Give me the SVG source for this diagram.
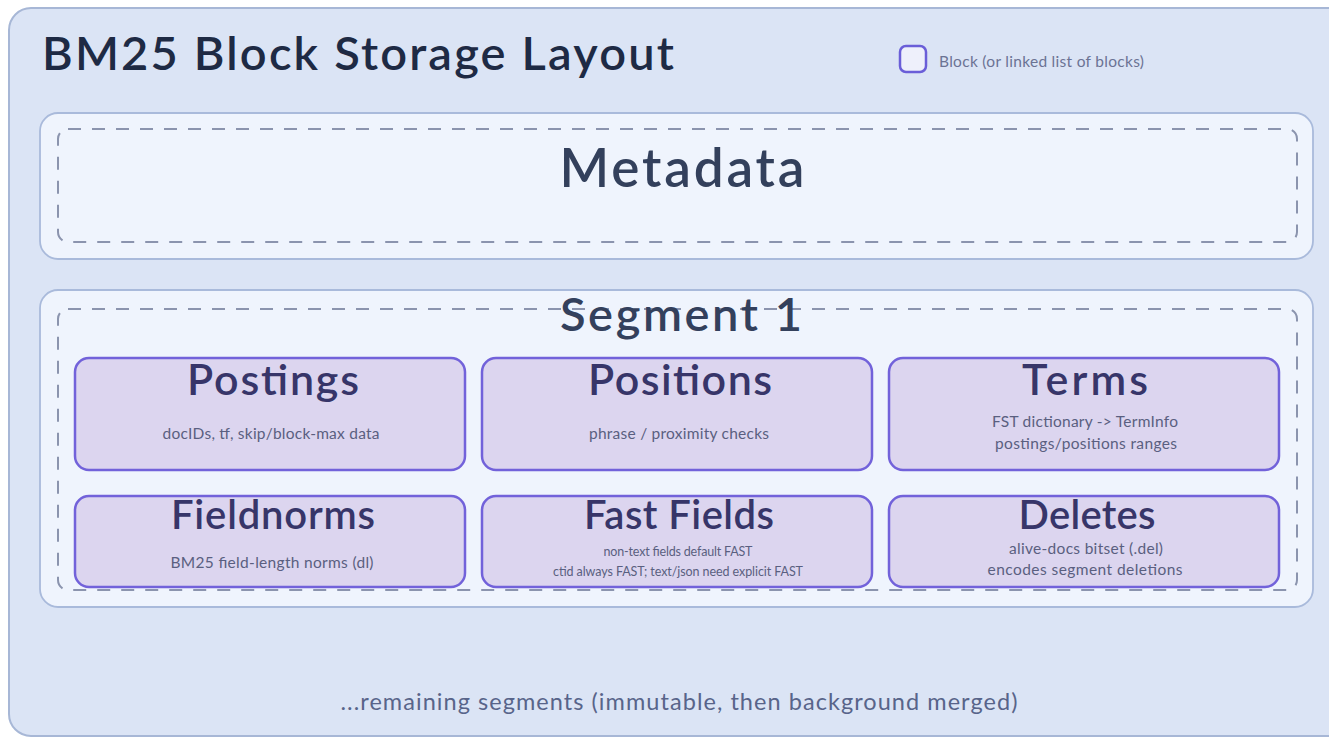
<svg xmlns="http://www.w3.org/2000/svg" width="1329" height="739" viewBox="0 0 1329 739">
  <style>
    text { font-family: Lato, "Noto Sans", "Liberation Sans", sans-serif; }
    .frame { fill: #dbe4f5; stroke: #a7b7d6; stroke-width: 2; }
    .section { fill: #eff4fd; stroke: #a9badb; stroke-width: 1.8; }
    .dash { fill: none; stroke: #8b94ae; stroke-width: 2; stroke-dasharray: 13 11; }
    .card { fill: #dcd5ef; stroke: #7262da; stroke-width: 2.5; }
    .heading { fill: #33405c; text-anchor: middle; font-weight: 600; }
    .ctitle { fill: #373569; text-anchor: middle; font-size: 43px; font-weight: 600; }
    .ctitle2 { fill: #373569; text-anchor: middle; font-size: 40px; font-weight: 600; }
    .csub { fill: #5a5f80; text-anchor: middle; font-size: 15.5px; }
    .csmall { fill: #5a5f80; text-anchor: middle; font-size: 12.5px; }
  </style>

  <!-- outer canvas -->
  <rect class="frame" x="9" y="8" width="1345" height="728" rx="22"/>
  <text x="42" y="70" font-size="47" fill="#1e2a44" font-weight="600" textLength="632" lengthAdjust="spacing">BM25 Block Storage Layout</text>

  <!-- legend -->
  <g id="legend">
    <rect x="900" y="46" width="26" height="26" rx="6" fill="#eef0fb" stroke="#6a5ed8" stroke-width="2.5"/>
    <text x="939" y="67" font-size="15.5" fill="#6b7394" textLength="205" lengthAdjust="spacing">Block (or linked list of blocks)</text>
  </g>

  <!-- metadata section -->
  <g id="metadata">
    <rect class="section" x="40" y="113" width="1273" height="146" rx="18"/>
    <rect class="dash" x="58" y="129" width="1239" height="113" rx="10"/>
    <text class="heading" x="682" y="187" font-size="53" textLength="245" lengthAdjust="spacing">Metadata</text>
  </g>

  <!-- segment 1 section -->
  <g id="segment1">
    <rect class="section" x="40" y="290" width="1273" height="317" rx="18"/>
    <rect class="dash" x="58" y="309" width="1239" height="281" rx="10"/>
    <text class="heading" x="681" y="331" font-size="47" textLength="242" lengthAdjust="spacing">Segment 1</text>
  </g>

  <g id="postings">
    <rect class="card" x="75" y="358" width="390" height="112" rx="14"/>
    <text class="ctitle" x="273" y="395" textLength="172" lengthAdjust="spacing">Postings</text>
    <text class="csub" x="271" y="439" textLength="217" lengthAdjust="spacing">docIDs, tf, skip/block-max data</text>
  </g>

  <g id="positions">
    <rect class="card" x="482" y="358" width="390" height="112" rx="14"/>
    <text class="ctitle" x="680" y="395" textLength="184" lengthAdjust="spacing">Positions</text>
    <text class="csub" x="679" y="439" textLength="180" lengthAdjust="spacing">phrase / proximity checks</text>
  </g>

  <g id="terms">
    <rect class="card" x="889" y="358" width="390" height="112" rx="14"/>
    <text class="ctitle" x="1085" y="395" textLength="126" lengthAdjust="spacing">Terms</text>
    <text class="csub" x="1085" y="427" textLength="186" lengthAdjust="spacing">FST dictionary -&gt; TermInfo</text>
    <text class="csub" x="1086" y="449" textLength="182" lengthAdjust="spacing">postings/positions ranges</text>
  </g>

  <g id="fieldnorms">
    <rect class="card" x="75" y="496" width="390" height="91" rx="14"/>
    <text class="ctitle2" x="273" y="529" textLength="204" lengthAdjust="spacing">Fieldnorms</text>
    <text class="csub" x="272" y="568" textLength="203" lengthAdjust="spacing">BM25 field-length norms (dl)</text>
  </g>

  <g id="fastfields">
    <rect class="card" x="482" y="496" width="390" height="91" rx="14"/>
    <text class="ctitle2" x="679" y="529" textLength="190" lengthAdjust="spacing">Fast Fields</text>
    <text class="csmall" x="678" y="556" textLength="149" lengthAdjust="spacing">non-text fields default FAST</text>
    <text class="csmall" x="678" y="576" textLength="250" lengthAdjust="spacing">ctid always FAST; text/json need explicit FAST</text>
  </g>

  <g id="deletes">
    <rect class="card" x="889" y="496" width="390" height="91" rx="14"/>
    <text class="ctitle2" x="1087" y="529" textLength="137" lengthAdjust="spacing">Deletes</text>
    <text class="csub" x="1086" y="554" textLength="154" lengthAdjust="spacing">alive-docs bitset (.del)</text>
    <text class="csub" x="1085" y="575" textLength="195" lengthAdjust="spacing">encodes segment deletions</text>
  </g>

  <text x="679" y="710" font-size="23.5" fill="#58648a" text-anchor="middle" textLength="677" lengthAdjust="spacing">...remaining segments (immutable, then background merged)</text>

  <g id="connectors"/>
</svg>
